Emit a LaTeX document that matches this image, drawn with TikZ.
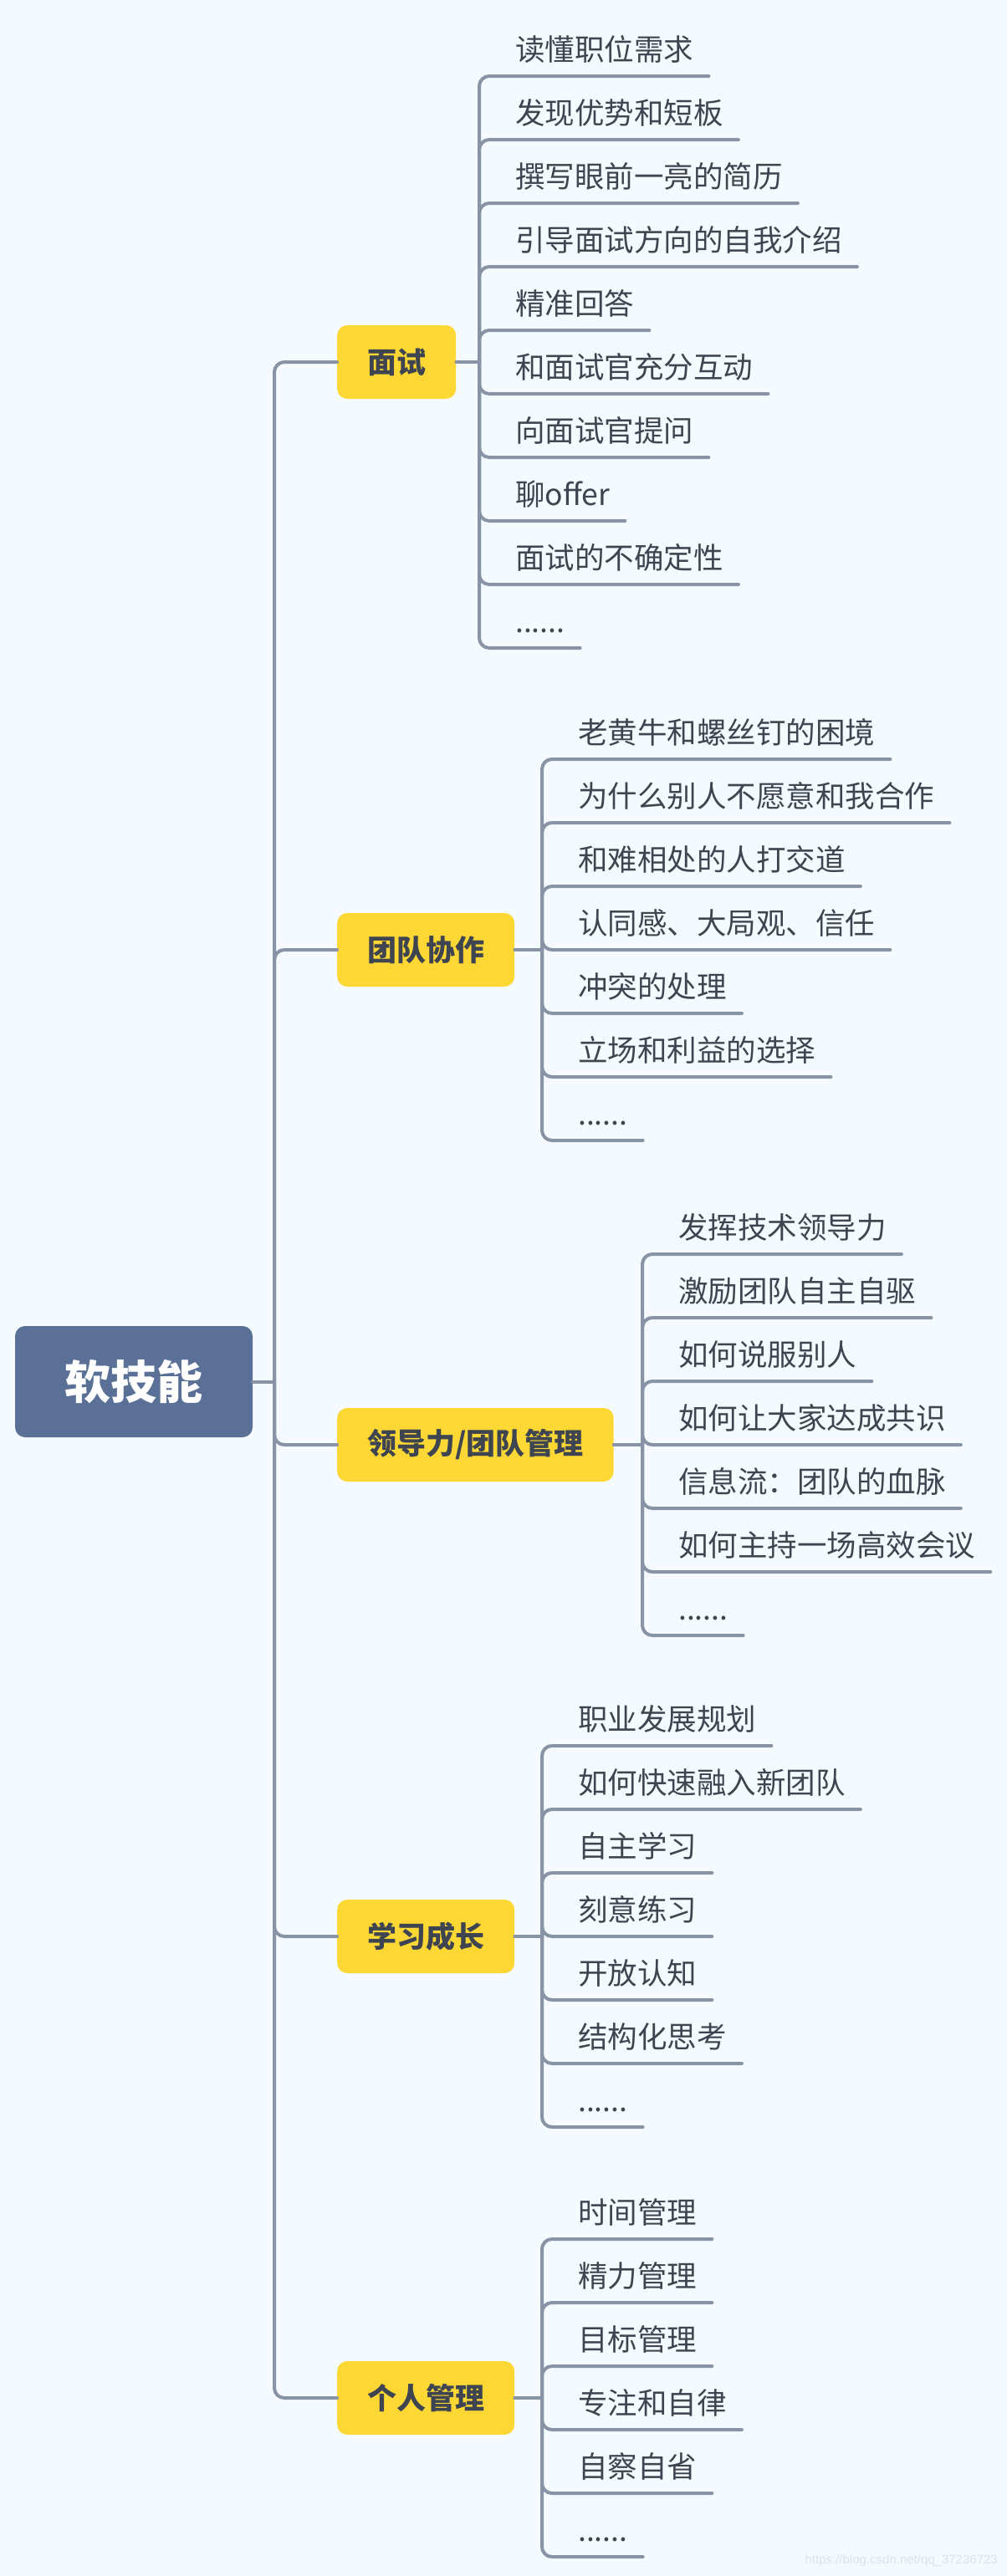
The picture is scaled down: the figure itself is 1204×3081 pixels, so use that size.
\documentclass[tikz,border=0pt]{standalone}
\usepackage{fontspec}
\setmainfont{Noto Sans CJK SC}
\newfontfamily\wmfont{Liberation Sans}
\usetikzlibrary{calc}
\definecolor{bgc}{HTML}{F5FAFE}
\definecolor{linec}{HTML}{8993A6}
\definecolor{rootc}{HTML}{5B7096}
\definecolor{branchc}{HTML}{FDD835}
\definecolor{txtc}{HTML}{3F4550}
\definecolor{wmc}{HTML}{DCE2E8}
\newcommand\sixdots{......}
\tikzset{
  conn/.style={draw=linec, line width=4pt, line cap=round, rounded corners=12pt},
  rootbox/.style={fill=rootc, rounded corners=12pt, minimum width=284pt, minimum height=133pt,
    text=white, font=\fontsize{55}{60}\selectfont\bfseries},
  branchbox/.style={fill=branchc, rounded corners=12pt, minimum height=88pt, inner xsep=36pt,
    anchor=west, text=txtc, font=\fontsize{35}{40}\selectfont\bfseries},
  leaf/.style={anchor=base west, inner sep=0pt, text=txtc, font=\fontsize{35.5}{40}\selectfont}
}
\newcommand\leafgroup[6]{%
  \coordinate (#1s) at (#4,#3);
  \draw[conn] (#2.east) -- (#1s);
  \foreach \txt [count=\i] in {#6} {
    \pgfmathsetmacro\yu{#3+(\i-1-(#5-1)/2)*76}
    \node[leaf] (#1l\i) at (#4+43,\yu-19) {\txt};
    \coordinate (#1u\i) at ($(#1l\i.base east)+(18,19)$);
    \draw[conn] (#1s) |- (#1u\i);
  }
}
\begin{document}
\begin{tikzpicture}[x=1pt,y=-1pt]
\fill[bgc] (0,0) rectangle (1204,3081);
\useasboundingbox (0,0) rectangle (1204,3081);

\node[rootbox] (root) at (160,1652.5) {软技能};
\coordinate (trunk) at (328,1652.5);
\draw[conn] (root.east) -- (trunk);

\node[branchbox] (b1) at (403,433) {面试};
\node[branchbox] (b2) at (403,1136) {团队协作};
\node[branchbox] (b3) at (403,1728) {领导力/团队管理};
\node[branchbox] (b4) at (403,2316) {学习成长};
\node[branchbox] (b5) at (403,2868) {个人管理};

\foreach \b in {b1,b2,b3,b4,b5} {
  \draw[conn] (trunk) |- (\b.west);
}

\leafgroup{g1}{b1}{433}{573}{10}{读懂职位需求,发现优势和短板,撰写眼前一亮的简历,引导面试方向的自我介绍,精准回答,和面试官充分互动,向面试官提问,聊offer,面试的不确定性,\sixdots}
\leafgroup{g2}{b2}{1136}{648}{7}{老黄牛和螺丝钉的困境,为什么别人不愿意和我合作,和难相处的人打交道,认同感、大局观、信任,冲突的处理,立场和利益的选择,\sixdots}
\leafgroup{g3}{b3}{1728}{768}{7}{发挥技术领导力,激励团队自主自驱,如何说服别人,如何让大家达成共识,信息流：团队的血脉,如何主持一场高效会议,\sixdots}
\leafgroup{g4}{b4}{2316}{648}{7}{职业发展规划,如何快速融入新团队,自主学习,刻意练习,开放认知,结构化思考,\sixdots}
\leafgroup{g5}{b5}{2868}{648}{6}{时间管理,精力管理,目标管理,专注和自律,自察自省,\sixdots}

\node[text=wmc, font=\fontsize{15}{18}\selectfont\wmfont, anchor=east, inner sep=0pt] (wm) at (1193,3063) {https://blog.csdn.net/qq\_37236723};
\end{tikzpicture}
\end{document}
